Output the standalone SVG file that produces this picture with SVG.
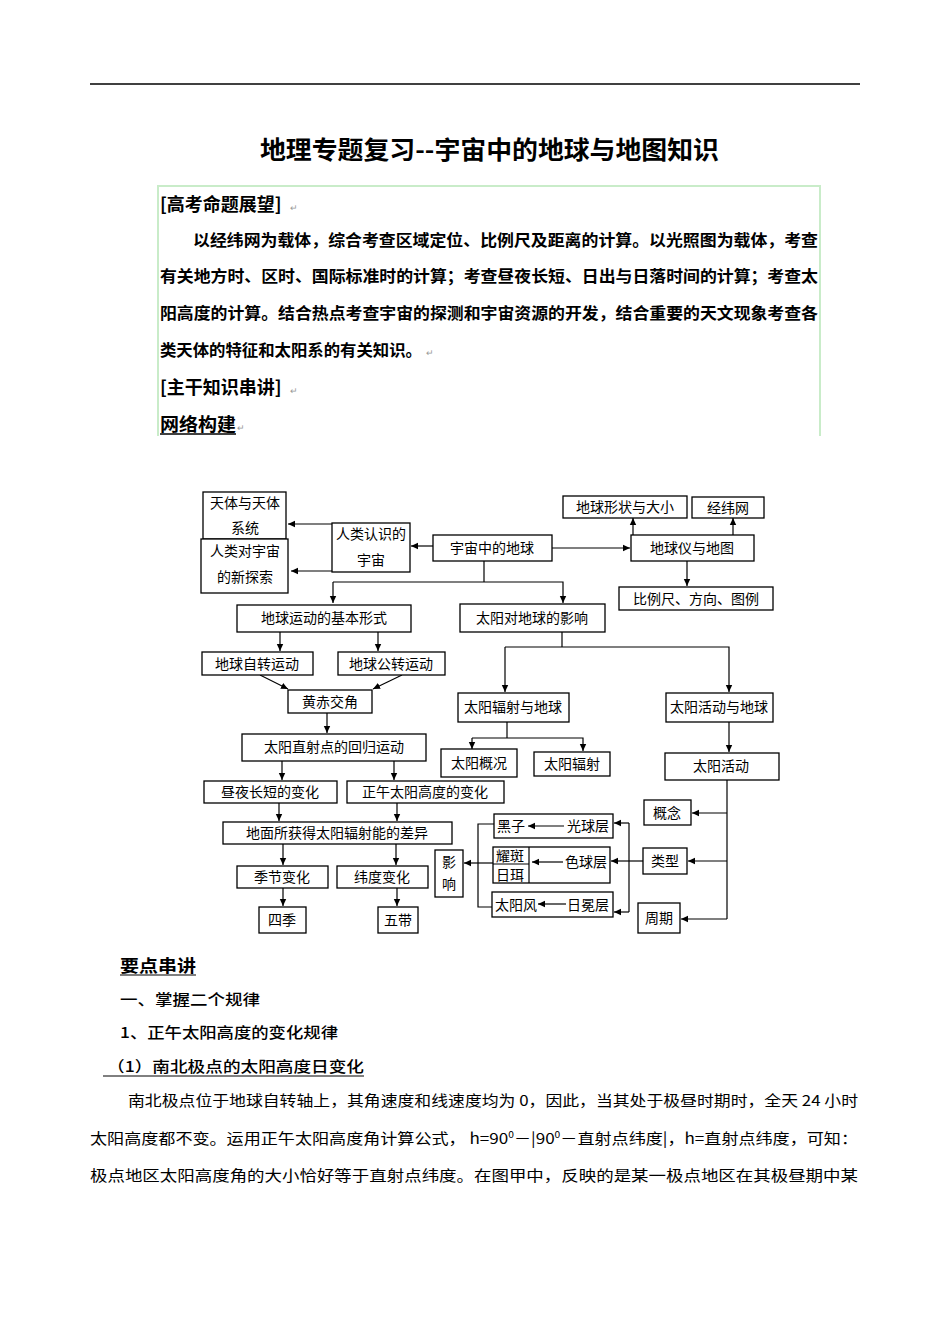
<svg xmlns="http://www.w3.org/2000/svg" width="950" height="1344" viewBox="0 0 950 1344">
<style>
text{font-family:"Noto Sans CJK SC","Liberation Sans",sans-serif;fill:#000}
.bx{fill:#fff;stroke:#000;stroke-width:1.3}
.lb{font-size:14px;text-anchor:middle}
.ln{fill:none;stroke:#000;stroke-width:1.2}
.ar{fill:none;stroke:#000;stroke-width:1.2;marker-end:url(#ah)}
.h{font-size:18px;font-weight:bold}
.kt{font-size:16px;font-weight:bold}
.rm{font-size:9px;fill:#999}
.bd{font-size:15px}
.hd{font-size:15px;font-weight:500}
</style>
<defs>
<marker id="ah" markerWidth="8" markerHeight="8" refX="7" refY="4" orient="auto" markerUnits="userSpaceOnUse">
<path d="M0,0.8 L7,4 L0,7.2 Z" fill="#000"/>
</marker>
</defs>
<rect width="950" height="1344" fill="#fff"/>
<line x1="90" y1="84" x2="860" y2="84" stroke="#000" stroke-width="1.3"/>
<text x="260" y="159" font-size="25" font-weight="bold" textLength="459" lengthAdjust="spacingAndGlyphs">地理专题复习--宇宙中的地球与地图知识</text>

<g id="intro">
<path d="M158,436 V186 H820 V436" fill="none" stroke="#c9ecc9" stroke-width="2"/>
<text x="160" y="211" class="h">[高考命题展望]</text><text x="290" y="211" class="rm">↵</text>
<text x="193" y="246" class="kt" textLength="625" lengthAdjust="spacingAndGlyphs">以经纬网为载体，综合考查区域定位、比例尺及距离的计算。以光照图为载体，考查</text>
<text x="160" y="282" class="kt" textLength="658" lengthAdjust="spacingAndGlyphs">有关地方时、区时、国际标准时的计算；考查昼夜长短、日出与日落时间的计算；考查太</text>
<text x="160" y="319" class="kt" textLength="658" lengthAdjust="spacingAndGlyphs">阳高度的计算。结合热点考查宇宙的探测和宇宙资源的开发，结合重要的天文现象考查各</text>
<text x="160" y="356" class="kt" textLength="262" lengthAdjust="spacingAndGlyphs">类天体的特征和太阳系的有关知识。</text><text x="426" y="356" class="rm">↵</text>
<text x="160" y="394" class="h">[主干知识串讲]</text><text x="290" y="394" class="rm">↵</text>
<text x="160" y="431" class="h" textLength="76" lengthAdjust="spacingAndGlyphs">网络构建</text>
<line x1="160" y1="434" x2="236" y2="434" stroke="#000" stroke-width="1.5"/>
<text x="237" y="431" class="rm">↵</text>
</g>

<g id="connectors">
<line class="ar" x1="332" y1="524" x2="288" y2="524"/>
<line class="ar" x1="332" y1="571" x2="291" y2="571"/>
<line class="ar" x1="433" y1="546" x2="411" y2="546"/>
<line class="ar" x1="552" y1="548" x2="630" y2="548"/>
<line class="ar" x1="633" y1="535" x2="633" y2="518"/>
<line class="ar" x1="733" y1="535" x2="733" y2="518"/>
<line class="ar" x1="687" y1="561" x2="687" y2="586"/>
<polyline class="ln" points="484,561 484,582"/>
<polyline class="ar" points="333,582 563,582 563,603"/>
<line class="ar" x1="333" y1="582" x2="333" y2="603"/>
<line class="ar" x1="280" y1="632" x2="280" y2="651"/>
<line class="ar" x1="378" y1="632" x2="378" y2="651"/>
<line class="ar" x1="260" y1="675" x2="288" y2="689"/>
<line class="ar" x1="402" y1="675" x2="373" y2="689"/>
<line class="ar" x1="327" y1="713" x2="327" y2="733"/>
<line class="ar" x1="282" y1="761" x2="282" y2="780"/>
<line class="ar" x1="394" y1="761" x2="394" y2="780"/>
<line class="ar" x1="279" y1="803" x2="279" y2="821"/>
<line class="ar" x1="397" y1="803" x2="397" y2="821"/>
<line class="ar" x1="283" y1="844" x2="283" y2="865"/>
<line class="ar" x1="396" y1="844" x2="396" y2="865"/>
<line class="ar" x1="283" y1="888" x2="283" y2="906"/>
<line class="ar" x1="397" y1="888" x2="397" y2="906"/>
<polyline class="ln" points="562,632 562,647"/>
<polyline class="ar" points="505,647 505,692"/>
<polyline class="ar" points="505,647 729,647 729,692"/>
<polyline class="ln" points="507,722 507,738"/>
<polyline class="ar" points="472,738 472,749"/>
<polyline class="ar" points="472,738 583,738 583,751"/>
<line class="ar" x1="729" y1="722" x2="729" y2="752"/>
<polyline class="ln" points="727,780 727,919"/>
<line class="ar" x1="727" y1="813" x2="692" y2="813"/>
<line class="ar" x1="727" y1="861" x2="688" y2="861"/>
<line class="ar" x1="727" y1="919" x2="681" y2="919"/>
<line class="ln" x1="643" y1="861" x2="629" y2="861"/>
<line class="ln" x1="629" y1="823" x2="629" y2="912"/>
<line class="ar" x1="629" y1="823" x2="614" y2="823"/>
<line class="ar" x1="629" y1="861" x2="611" y2="861"/>
<line class="ar" x1="629" y1="912" x2="614" y2="912"/>
<polyline class="ln" points="494,824 478,824 478,907 492,907"/>
<line class="ar" x1="493" y1="863" x2="464" y2="863"/>
</g>

<g id="n-tiyu"><rect class="bx" x="203" y="492" width="83" height="47"/><text class="lb" x="245" y="508">天体与天体</text><text class="lb" x="245" y="533">系统</text></g>
<g id="n-tansuo"><rect class="bx" x="201" y="539" width="87" height="54"/><text class="lb" x="245" y="556">人类对宇宙</text><text class="lb" x="245" y="582">的新探索</text></g>
<g id="n-renshi"><rect class="bx" x="332" y="523" width="78" height="49"/><text class="lb" x="371" y="539">人类认识的</text><text class="lb" x="371" y="565">宇宙</text></g>
<g id="n-diqiu"><rect class="bx" x="433" y="535" width="119" height="26"/><text class="lb" x="492" y="553">宇宙中的地球</text></g>
<g id="n-xingzhuang"><rect class="bx" x="563" y="496" width="124" height="22"/><text class="lb" x="625" y="512">地球形状与大小</text></g>
<g id="n-jingwei"><rect class="bx" x="692" y="497" width="72" height="21"/><text class="lb" x="728" y="513">经纬网</text></g>
<g id="n-diqiuyi"><rect class="bx" x="631" y="535" width="123" height="26"/><text class="lb" x="692" y="553">地球仪与地图</text></g>
<g id="n-bili"><rect class="bx" x="619" y="587" width="154" height="23"/><text class="lb" x="696" y="604">比例尺、方向、图例</text></g>
<g id="n-yundong"><rect class="bx" x="237" y="605" width="174" height="27"/><text class="lb" x="324" y="623">地球运动的基本形式</text></g>
<g id="n-yingxiang"><rect class="bx" x="460" y="604" width="145" height="28"/><text class="lb" x="532" y="623">太阳对地球的影响</text></g>
<g id="n-zizhuan"><rect class="bx" x="202" y="652" width="111" height="23"/><text class="lb" x="257" y="669">地球自转运动</text></g>
<g id="n-gongzhuan"><rect class="bx" x="338" y="652" width="107" height="23"/><text class="lb" x="391" y="669">地球公转运动</text></g>
<g id="n-huangchi"><rect class="bx" x="288" y="690" width="84" height="23"/><text class="lb" x="330" y="707">黄赤交角</text></g>
<g id="n-fushe"><rect class="bx" x="458" y="693" width="111" height="29"/><text class="lb" x="513" y="712">太阳辐射与地球</text></g>
<g id="n-huodongdq"><rect class="bx" x="666" y="693" width="107" height="29"/><text class="lb" x="719" y="712">太阳活动与地球</text></g>
<g id="n-huigui"><rect class="bx" x="242" y="734" width="184" height="27"/><text class="lb" x="334" y="752">太阳直射点的回归运动</text></g>
<g id="n-gaikuang"><rect class="bx" x="441" y="749" width="76" height="28"/><text class="lb" x="479" y="768">太阳概况</text></g>
<g id="n-fushe2"><rect class="bx" x="534" y="752" width="76" height="24"/><text class="lb" x="572" y="769">太阳辐射</text></g>
<g id="n-huodong"><rect class="bx" x="665" y="753" width="114" height="27"/><text class="lb" x="721" y="771">太阳活动</text></g>
<g id="n-zhouye"><rect class="bx" x="204" y="781" width="133" height="22"/><text class="lb" x="270" y="797">昼夜长短的变化</text></g>
<g id="n-zhengwu"><rect class="bx" x="347" y="781" width="157" height="22"/><text class="lb" x="425" y="797">正午太阳高度的变化</text></g>
<g id="n-gainian"><rect class="bx" x="644" y="800" width="47" height="25"/><text class="lb" x="667" y="818">概念</text></g>
<g id="n-chayi"><rect class="bx" x="223" y="822" width="229" height="22"/><text class="lb" x="337" y="838">地面所获得太阳辐射能的差异</text></g>
<g id="n-guangqiu"><rect class="bx" x="494" y="814" width="119" height="24"/><text x="497" y="831" font-size="14">黑子</text><text x="609" y="831" font-size="14" text-anchor="end">光球层</text><line class="ar" x1="564" y1="826" x2="528" y2="826"/></g>
<g id="n-seqiu"><rect class="bx" x="493" y="847" width="117" height="36"/><line class="ln" x1="529" y1="847" x2="529" y2="883"/><line class="ln" x1="493" y1="864" x2="529" y2="864"/><text x="496" y="861" font-size="14">耀斑</text><text x="496" y="880" font-size="14">日珥</text><text x="607" y="867" font-size="14" text-anchor="end">色球层</text><line class="ar" x1="563" y1="862" x2="532" y2="862"/></g>
<g id="n-leixing"><rect class="bx" x="643" y="848" width="44" height="26"/><text class="lb" x="665" y="866">类型</text></g>
<g id="n-ying"><rect class="bx" x="435" y="850" width="28" height="47"/><text class="lb" x="449" y="867">影</text><text class="lb" x="449" y="889">响</text></g>
<g id="n-jijie"><rect class="bx" x="237" y="866" width="91" height="22"/><text class="lb" x="282" y="882">季节变化</text></g>
<g id="n-weidu"><rect class="bx" x="337" y="866" width="91" height="22"/><text class="lb" x="382" y="882">纬度变化</text></g>
<g id="n-rimian"><rect class="bx" x="492" y="892" width="121" height="25"/><text x="495" y="910" font-size="14">太阳风</text><text x="609" y="910" font-size="14" text-anchor="end">日冕层</text><line class="ar" x1="566" y1="904" x2="538" y2="904"/></g>
<g id="n-zhouqi"><rect class="bx" x="638" y="903" width="42" height="30"/><text class="lb" x="659" y="923">周期</text></g>
<g id="n-siji"><rect class="bx" x="259" y="907" width="47" height="26"/><text class="lb" x="282" y="925">四季</text></g>
<g id="n-wudai"><rect class="bx" x="378" y="907" width="40" height="26"/><text class="lb" x="398" y="925">五带</text></g>

<g id="body">
<text x="120" y="972" font-size="17" font-weight="bold" textLength="76" lengthAdjust="spacingAndGlyphs">要点串讲</text>
<line x1="120" y1="975" x2="196" y2="975" stroke="#000" stroke-width="1.2"/>
<text x="120" y="1005" class="hd" textLength="140" lengthAdjust="spacingAndGlyphs">一、掌握二个规律</text>
<text x="120" y="1038" class="hd" textLength="218" lengthAdjust="spacingAndGlyphs">1、正午太阳高度的变化规律</text>
<text x="107" y="1072" class="hd" textLength="257" lengthAdjust="spacingAndGlyphs">（1）南北极点的太阳高度日变化</text>
<line x1="103" y1="1076" x2="364" y2="1076" stroke="#000" stroke-width="1"/>
<text x="128" y="1106" class="bd" textLength="730" lengthAdjust="spacingAndGlyphs">南北极点位于地球自转轴上，其角速度和线速度均为 0，因此，当其处于极昼时期时，全天 24 小时</text>
<text x="90" y="1144" class="bd" textLength="768" lengthAdjust="spacingAndGlyphs">太阳高度都不变。运用正午太阳高度角计算公式， h=90<tspan font-size="9" dy="-6">0</tspan><tspan dy="6">－|90</tspan><tspan font-size="9" dy="-6">0</tspan><tspan dy="6">－直射点纬度|，h=直射点纬度，可知：</tspan></text>
<text x="90" y="1181" class="bd" textLength="768" lengthAdjust="spacingAndGlyphs">极点地区太阳高度角的大小恰好等于直射点纬度。在图甲中，反映的是某一极点地区在其极昼期中某</text>
</g>
</svg>
